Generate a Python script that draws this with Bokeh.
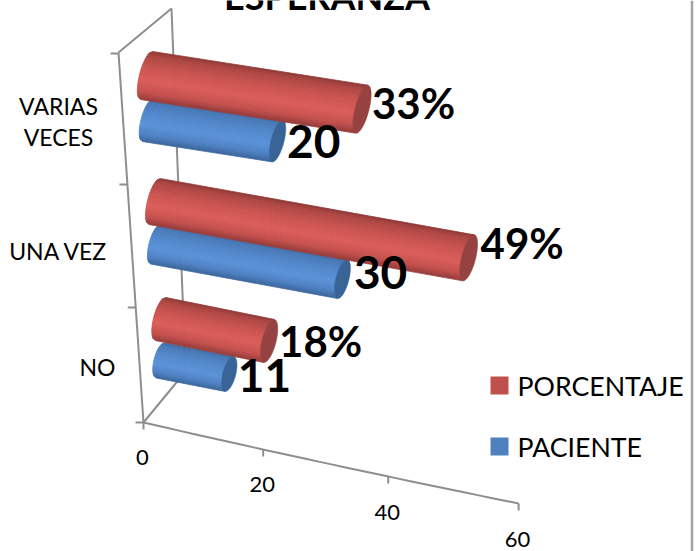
import numpy as np
from bokeh.core.properties import value
from bokeh.embed import file_html
from bokeh.models import ColumnDataSource, Range1d
from bokeh.plotting import figure
from bokeh.resources import INLINE

# Chart data (categories listed from the bottom slot upward)
categories = ["NO", "UNA VEZ", "VARIAS\nVECES"]
paciente = [11, 30, 20]
porcentaje = [18, 49, 33]
value_ticks = [0, 20, 40, 60]
title_text = "ESPERANZA"

W, H = 699, 551
FONT = value("Lato")

# Screen-space projection of the 3D scene
SLOT_BASE = {
    "PORCENTAJE": [(160, 318.5), (154, 201), (146, 75)],
    "PACIENTE": [(160, 360), (155, 244), (147, 120)],
}
SLOT_STEP = {
    "PORCENTAJE": [(6.03, 1.22), (6.41, 1.15), (6.53, 1.02)],
    "PACIENTE": [(6.25, 1.22), (6.23, 1.15), (6.5, 1.02)],
}
SLOT_RADIUS = {"PORCENTAJE": [21.5, 23, 24], "PACIENTE": [17.5, 19.5, 21]}
CAP_WIDTH = {"PORCENTAJE": 7.0, "PACIENTE": 6.5}
TILT = 0.25

LABEL_OFFSET = {
    "PORCENTAJE": [(10, 0), (12, -14.5), (10, -6.5)],
    "PACIENTE": [(8.5, 1.5), (11.5, -7), (9.5, 1)],
}
LABEL_SIZE = {"PORCENTAJE": "42px", "PACIENTE": "46px"}

# Light-to-dark ramp across a cylinder, top edge to bottom edge
RAMPS = {
    "PORCENTAJE": {
        "stops": [0.0, 0.10, 0.35, 0.62, 0.85, 1.0],
        "colors": [(140, 56, 54), (172, 70, 67), (203, 84, 80), (219, 94, 90), (196, 80, 77), (150, 60, 58)],
        "cap": "#954240",
    },
    "PACIENTE": {
        "stops": [0.0, 0.10, 0.35, 0.62, 0.85, 1.0],
        "colors": [(60, 104, 158), (72, 120, 182), (82, 136, 204), (90, 146, 216), (78, 128, 194), (58, 102, 156)],
        "cap": "#386498",
    },
}


def hex_color(rgb):
    return "#%02x%02x%02x" % tuple(int(round(c)) for c in rgb)


def value_axis_xy(v):
    """Position of a value on the floor's front edge."""
    return 143 + 5.85 * v + 0.0067 * v * v, 422 + 1.35 * v


def cylinder(series, slot, val):
    bx, by = SLOT_BASE[series][slot]
    sx, sy = SLOT_STEP[series][slot]
    r = SLOT_RADIUS[series][slot]
    cw = CAP_WIDTH[series]
    ex, ey = bx + val * sx, by + val * sy
    norm = np.hypot(sx, sy)
    ax, ay = sx / norm, sy / norm
    hx, hy = TILT * r, -r
    ramp = RAMPS[series]

    # Body as thin strips wrapped round the visible half of the tube
    n = 24
    thetas = np.arccos(np.linspace(1, -1, n + 1))
    xs, ys, cols = [], [], []
    for i in range(n):
        t0, t1 = thetas[i], thetas[i + 1]
        u = (i + 0.5) / n
        rgb = [np.interp(u, ramp["stops"], [c[k] for c in ramp["colors"]]) for k in range(3)]
        pts = []
        for cx, cy, th in ((bx, by, t0), (bx, by, t1), (ex, ey, t1), (ex, ey, t0)):
            pts.append((cx + hx * np.cos(th) - cw * ax * np.sin(th),
                        cy + hy * np.cos(th) - cw * ay * np.sin(th)))
        xs.append([p[0] for p in pts])
        ys.append([p[1] for p in pts])
        cols.append(hex_color(rgb))

    # End face
    ph = np.linspace(0, 2 * np.pi, 80)
    cap_x = ex + hx * np.cos(ph) + cw * ax * np.sin(ph)
    cap_y = ey + hy * np.cos(ph) + cw * ay * np.sin(ph)
    return xs, ys, cols, cap_x, cap_y, ramp["cap"], (ex, ey)


p = figure(
    width=W, height=H, output_backend="svg", toolbar_location=None,
    x_range=Range1d(0, W), y_range=Range1d(H, 0),
    min_border=0, outline_line_color=None, background_fill_color="white",
    border_fill_color="white",
)
p.xaxis.visible = False
p.yaxis.visible = False
p.grid.visible = False

AXIS = "#8e8e8e"


def seg(x, y, w=2.0, color=AXIS):
    p.line(x, y, line_color=color, line_width=w)


# Frame on the right edge of the chart area
seg([691.5, 691.5], [0, H], 2.5, "#a3a3a3")

# Wall and floor edges
front_bottom, front_top = (143, 422), (118, 52)
back_bottom, back_top = (185, 371), (171, 8)
seg([front_bottom[0], front_top[0]], [front_bottom[1], front_top[1]])
seg([front_top[0], back_top[0]], [front_top[1], back_top[1]])
seg([back_top[0], back_bottom[0]], [back_top[1], back_bottom[1]])
seg([front_bottom[0], back_bottom[0]], [front_bottom[1], back_bottom[1]])

# Category divisions along the front edge
for k in range(4):
    y = [422, 307, 184, 53][k]
    frac = (422 - y) / 370
    x = 143 - 25 * frac
    seg([x - 8, x], [y, y])

# Value axis
vs = np.linspace(value_ticks[0], value_ticks[-1], 30)
vx, vy = value_axis_xy(vs)
seg(list(vx), list(vy))
for v in value_ticks:
    tx, ty = value_axis_xy(v)
    seg([tx, tx], [ty, ty + 7])
    p.text([tx - 1], [ty + 34.5 + v * 0.03], text=[str(v)], text_font=FONT, text_font_size="22px",
           text_color="#000000", text_align="center", text_baseline="middle")

# Category labels
cat_pos = [(97, 366), (58, 250), (58, 121)]
for name, (cx, cy) in zip(categories, cat_pos):
    lines = name.split("\n")
    for j, line in enumerate(lines):
        yy = cy + (j - (len(lines) - 1) / 2) * 31
        p.text([cx], [yy], text=[line], text_font=FONT, text_font_size="23px",
               text_color="#000000", text_align="center", text_baseline="middle")

# Cylinders, back rows first
labels = []
for slot in (2, 1, 0):
    for series, vals, suffix in (("PACIENTE", paciente, ""), ("PORCENTAJE", porcentaje, "%")):
        xs, ys, cols, cap_x, cap_y, cap_col, (ex, ey) = cylinder(series, slot, vals[slot])
        src = ColumnDataSource(dict(xs=xs, ys=ys, c=cols))
        p.patches("xs", "ys", source=src, fill_color="c", line_color="c", line_width=0.8)
        p.patch(list(cap_x), list(cap_y), fill_color=cap_col, line_color=cap_col, line_width=0.5)
        dx, dy = LABEL_OFFSET[series][slot]
        labels.append((ex + dx, ey + dy, f"{vals[slot]}{suffix}", LABEL_SIZE[series]))

# Data labels sit above every bar
for lx, ly, txt, size in labels:
    p.text([lx], [ly], text=[txt], text_font=FONT, text_font_size=size, text_font_style="bold",
           text_color="black", text_align="left", text_baseline="middle")

# Title, partly above the top edge of the page
p.text([326.5], [-5], text=[title_text], text_font=FONT, text_font_size="36px", text_font_style="bold",
       text_color="black", text_align="center", text_baseline="middle")

# Legend
legend_rows = [("PORCENTAJE", "#c0504d", 376), ("PACIENTE", "#4f81bd", 437)]
for name, col, top in legend_rows:
    p.quad(left=[490], right=[508], top=[top], bottom=[top + 18], fill_color=col, line_color=None)
    p.text([517], [top + 9], text=[name], text_font=FONT, text_font_size="26.7px",
           text_color="#000000", text_align="left", text_baseline="middle")

open("out.html", "w").write(file_html(p, INLINE))
